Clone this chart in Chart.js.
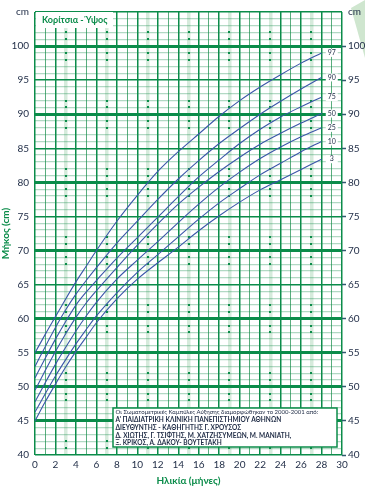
<!DOCTYPE html>
<html>
<head>
<meta charset="utf-8">
<script src="https://cdn.jsdelivr.net/npm/chart.js@4.4.1/dist/chart.umd.min.js"></script>
<style>
  html, body { margin: 0; padding: 0; background: #fff; }
  #wrap { width: 365px; height: 487px; position: relative; }
</style>
</head>
<body>
<div id="wrap"><canvas id="chart" width="365" height="487"></canvas></div>
<script>
// Ηλικία σε μήνες
const months = [0, 1, 2, 3, 4, 5, 6, 8, 10, 12, 14, 16, 18, 20, 22, 24, 26, 28];

// Εκατοστημόρια μήκους (cm)
const p3  = [45.0, 47.8, 50.4, 52.9, 55.2, 57.3, 59.4, 62.9, 65.8, 68.2, 70.5, 72.9, 75.1, 77.1, 78.9, 80.4, 81.9, 83.4];
const p10 = [46.3, 49.0, 51.6, 54.0, 56.3, 58.4, 60.4, 63.8, 66.8, 69.4, 72.0, 74.6, 77.0, 79.1, 81.1, 82.8, 84.5, 86.0];
const p25 = [47.8, 50.6, 53.3, 55.8, 58.2, 60.4, 62.4, 65.8, 68.6, 71.3, 74.1, 76.8, 79.3, 81.5, 83.5, 85.2, 86.7, 88.0];
const p50 = [49.5, 52.4, 55.2, 57.8, 60.2, 62.3, 64.1, 67.5, 70.8, 73.9, 76.8, 79.3, 81.6, 83.7, 85.6, 87.2, 88.7, 90.1];
const p75 = [51.3, 54.2, 57.0, 59.6, 62.0, 63.9, 65.6, 68.9, 71.9, 74.9, 77.9, 80.8, 83.3, 85.7, 87.8, 89.6, 91.1, 92.5];
const p90 = [53.0, 55.9, 58.7, 61.3, 63.6, 65.6, 67.5, 71.1, 74.3, 77.5, 80.5, 83.2, 85.7, 87.9, 90.0, 91.9, 93.7, 95.4];
const p97 = [55.0, 57.7, 60.3, 62.9, 65.4, 67.7, 70.0, 74.3, 78.1, 81.6, 84.5, 87.1, 89.7, 92.0, 94.0, 95.8, 97.5, 99.0];

const percentileLabels = ['3', '10', '25', '50', '75', '90', '97'];
const percentileSeries = [p3, p10, p25, p50, p75, p90, p97];

// Άξονες
const xMin = 0, xMax = 30;
const yMin = 40, yMax = 105;

const titleText = 'Κορίτσια - Ύψος';
const noteLines = [
  'Οι Σωματομετρικές Καμπύλες Αύξησης διαμορφώθηκαν το 2000-2001 από:',
  'Α\' ΠΑΙΔΙΑΤΡΙΚΗ ΚΛΙΝΙΚΗ ΠΑΝΕΠΙΣΤΗΜΙΟΥ ΑΘΗΝΩΝ',
  'ΔΙΕΥΘΥΝΤΗΣ - ΚΑΘΗΓΗΤΗΣ Γ. ΧΡΟΥΣΟΣ',
  'Δ. ΧΙΩΤΗΣ, Γ. ΤΣΙΦΤΗΣ, Μ. ΧΑΤΖΗΣΥΜΕΩΝ, Μ. ΜΑΝΙΑΤΗ,',
  'Ξ. ΚΡΙΚΟΣ, Α. ΔΑΚΟΥ- ΒΟΥΤΕΤΑΚΗ'
];

const GREEN = '#0b8c4a';
const GREEN_MID = '#5aae7e';
const GREEN_LIGHT = 'rgba(20,140,75,0.33)';
const GREEN_PALE = '#d6ebdc';
const INK = '#1d2a44';
const CURVE = '#3a55a8';
const FONT = 'Lato, "Open Sans", sans-serif';

const datasets = percentileSeries.map((serie, i) => ({
  label: percentileLabels[i],
  data: months.map((m, k) => ({ x: m, y: serie[k] })),
  borderColor: CURVE,
  borderWidth: 1.1,
  pointRadius: 0,
  fill: false,
  cubicInterpolationMode: 'monotone'
}));

// Dessins en plus : points de la grille, cadres, étiquettes
const extras = {
  id: 'extras',
  beforeDraw(chart) {
    const { ctx } = chart;
    ctx.save();
    // triangle décoratif en haut à droite
    ctx.fillStyle = '#cfe6cf';
    ctx.beginPath();
    ctx.moveTo(351, 8);
    ctx.lineTo(365, 0);
    ctx.lineTo(365, 58);
    ctx.closePath();
    ctx.fill();
    ctx.restore();
  },
  beforeDatasetsDraw(chart) {
    const { ctx, scales: { x, y } } = chart;
    ctx.save();
    ctx.fillStyle = GREEN;
    for (let m = 3; m < xMax; m += 4) {
      for (let v = yMin + 1; v < yMax; v++) {
        const r = v % 10;
        if (r === 1 || r === 2 || r === 8 || r === 9) {
          ctx.fillRect(Math.round(x.getPixelForValue(m)) - 1, Math.round(y.getPixelForValue(v)) - 1, 2, 2);
        }
      }
    }
    ctx.restore();
  },
  afterDatasetsDraw(chart) {
    const { ctx, scales: { x, y } } = chart;
    ctx.save();

    // titre
    ctx.fillStyle = '#fff';
    ctx.fillRect(36, 12, 77, 16);
    ctx.fillStyle = GREEN;
    ctx.font = 'bold 9px ' + FONT;
    ctx.textBaseline = 'middle';
    ctx.fillText(titleText, 42, 20.5, 68);

    // étiquettes des percentiles
    ctx.font = '7px ' + FONT;
    ctx.textAlign = 'center';
    percentileSeries.forEach((serie, i) => {
      const px = x.getPixelForValue(29);
      const py = y.getPixelForValue(serie[serie.length - 1]);
      ctx.fillStyle = '#fff';
      ctx.fillRect(px - 6, py - 4, 12, 8);
      ctx.fillStyle = INK;
      ctx.fillText(percentileLabels[i], px, py);
    });

    // cadre de la note
    const bx = 113, by = 408, bw = 224, bh = 39;
    ctx.fillStyle = '#fff';
    ctx.fillRect(bx, by, bw, bh);
    ctx.strokeStyle = GREEN;
    ctx.lineWidth = 1.5;
    ctx.strokeRect(bx, by, bw, bh);
    ctx.textAlign = 'left';
    ctx.fillStyle = INK;
    const rows = [412.5, 420.3, 428.2, 435.8, 443.2];
    const widths = [221, 181, 143, 192, 131];
    noteLines.forEach((line, i) => {
      ctx.font = (i === 0 ? '6px ' : 'bold 6.5px ') + FONT;
      ctx.fillText(line, 115.5, rows[i], widths[i]);
    });
    ctx.restore();
  }
};

const ctx = document.getElementById('chart').getContext('2d');
const myChart = new Chart(ctx, {
  type: 'line',
  data: { datasets: datasets },
  options: {
    responsive: false,
    animation: false,
    devicePixelRatio: 1,
    layout: { padding: { top: 0, left: 0, right: 0, bottom: 0 } },
    plugins: { legend: { display: false }, tooltip: { enabled: false } },
    scales: {
      x: {
        type: 'linear',
        min: xMin,
        max: xMax,
        afterFit(s) { s.height = 32; },
        border: { display: false },
        grid: {
          drawTicks: false,
          color: c => {
            const v = c.tick.value;
            if (v % 2 === 0) return GREEN;
            return v % 4 === 1 ? GREEN_MID : GREEN_PALE;
          },
          lineWidth: c => {
            const v = c.tick.value;
            if (v % 2 === 0) return 1.5;
            return v % 4 === 1 ? 1 : 3.5;
          }
        },
        ticks: {
          stepSize: 1,
          autoSkip: false,
          maxRotation: 0,
          padding: 4,
          color: INK,
          font: { family: FONT, size: 10 },
          callback: v => (v % 2 === 0 ? v : '')
        },
        title: {
          display: true,
          text: 'Ηλικία (μήνες)',
          color: GREEN,
          font: { family: FONT, size: 10, weight: 'bold' },
          padding: { top: 1, bottom: 0 }
        }
      },
      y: {
        type: 'linear',
        position: 'left',
        min: yMin,
        max: yMax,
        afterFit(s) { s.width = 35; },
        border: { display: false },
        grid: {
          drawTicks: false,
          color: c => {
            const v = c.tick.value;
            if (v % 5 === 0) return GREEN;
            return GREEN_LIGHT;
          },
          lineWidth: c => {
            const v = c.tick.value;
            if (v === 105 || v === 40) return 1.5;
            if (v % 10 === 0 || v === 45 || v === 55) return 3;
            if (v % 5 === 0) return 1.5;
            return 1.3;
          }
        },
        ticks: {
          stepSize: 1,
          autoSkip: false,
          padding: 6,
          color: INK,
          font: { family: FONT, size: 10 },
          callback: v => (v === 105 ? 'cm' : (v % 5 === 0 ? v : ''))
        },
        title: {
          display: true,
          text: 'Μήκος (cm)',
          color: GREEN,
          font: { family: FONT, size: 10, weight: 'bold' },
          padding: { top: 0, bottom: 0 }
        }
      },
      yR: {
        type: 'linear',
        position: 'right',
        min: yMin,
        max: yMax,
        afterFit(s) { s.width = 23; },
        border: { display: false },
        grid: {
          drawOnChartArea: false,
          tickLength: 4,
          tickColor: c => (c.tick.value % 5 === 0 && c.tick.value < 105 ? '#2f5a6e' : 'rgba(0,0,0,0)'),
          tickWidth: 1.5
        },
        ticks: {
          stepSize: 1,
          autoSkip: false,
          padding: 2,
          color: INK,
          font: { family: FONT, size: 10 },
          callback: v => (v === 105 ? 'cm' : (v % 5 === 0 ? v : ''))
        }
      }
    }
  },
  plugins: [extras]
});
</script>
</body>
</html>
